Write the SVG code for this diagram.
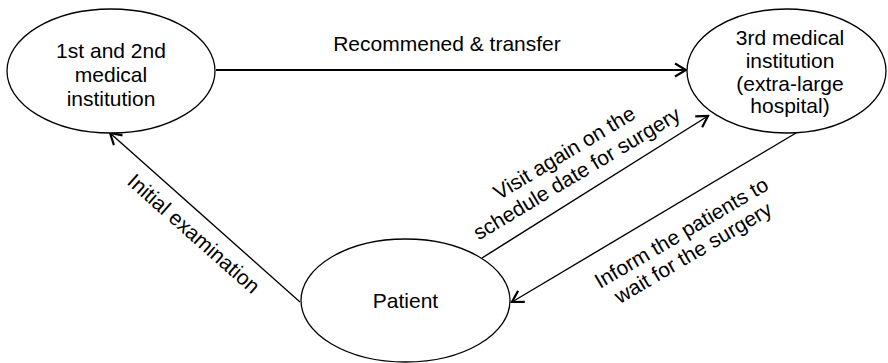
<svg xmlns="http://www.w3.org/2000/svg" width="888" height="363" viewBox="0 0 888 363">
<style>
.node{fill:#fff;stroke:#000;stroke-width:1.3}
.t{font-family:"Liberation Sans",Arial,sans-serif;font-size:21px;fill:#000;text-anchor:middle}
.c{stroke:#000;fill:none;stroke-width:1.4}
</style>
<defs>
<marker id="ah" markerUnits="userSpaceOnUse" viewBox="-14 -9 16 18" markerWidth="16" markerHeight="18" refX="0" refY="0" orient="auto">
<path d="M-11,-6.5 L0,0 L-11,6.5" fill="none" stroke="#000" stroke-width="2.2"/>
</marker>
</defs>
<rect width="888" height="363" fill="#fff"/>
<g id="connectors">
<line class="c" x1="216" y1="70" x2="686" y2="70" style="stroke-width:2" marker-end="url(#ah)"/>
<line class="c" x1="300" y1="302" x2="110" y2="133" marker-end="url(#ah)"/>
<line class="c" x1="482" y1="258" x2="708" y2="116" marker-end="url(#ah)"/>
<line class="c" x1="796" y1="133" x2="512" y2="302" marker-end="url(#ah)"/>
<text class="t" x="447" y="51">Recommened &amp; transfer</text>
<text class="t" transform="translate(189,239) rotate(41.5)">Initial examination</text>
<text class="t" transform="translate(568,159) rotate(-31)"><tspan x="0" y="0">Visit again on the</tspan><tspan x="0" y="24">schedule date for surgery</tspan></text>
<text class="t" transform="translate(685,239) rotate(-30.5)"><tspan x="0" y="0">Inform the patients to</tspan><tspan x="0" y="23">wait for the surgery</tspan></text>
</g>
<g id="node-first">
<ellipse class="node" cx="111" cy="71" rx="104" ry="62"/>
<text class="t"><tspan x="111" y="58">1st and 2nd</tspan><tspan x="111" y="82">medical</tspan><tspan x="111" y="106">institution</tspan></text>
</g>
<g id="node-third">
<ellipse class="node" cx="786.5" cy="71" rx="99.5" ry="62"/>
<text class="t"><tspan x="790" y="45">3rd medical</tspan><tspan x="790" y="68">institution</tspan><tspan x="790" y="91">(extra-large</tspan><tspan x="790" y="113">hospital)</tspan></text>
</g>
<g id="node-patient">
<ellipse class="node" cx="405.5" cy="300.5" rx="104.5" ry="61.5"/>
<text class="t" x="405.5" y="308">Patient</text>
</g>
</svg>
